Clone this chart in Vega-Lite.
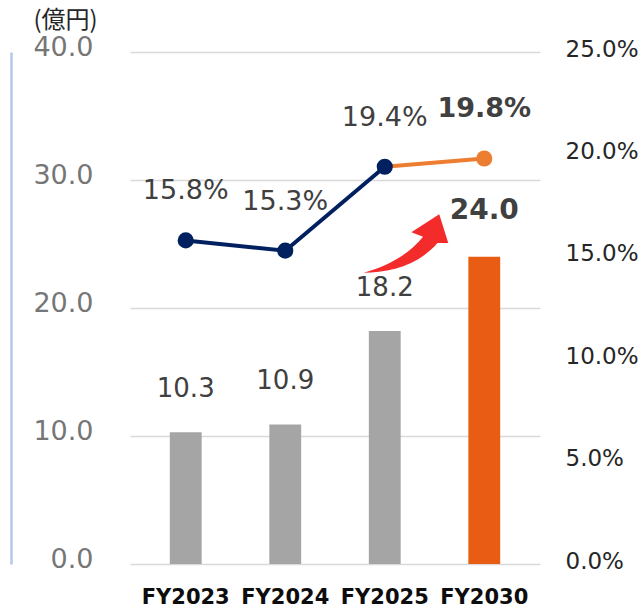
{
  "$schema": "https://vega.github.io/schema/vega-lite/v6.json",
  "width": 410,
  "height": 512,
  "autosize": {"type": "none"},
  "padding": {"left": 130, "top": 52, "right": 100, "bottom": 43},
  "background": "white",
  "config": {"view": {"stroke": null}, "font": "DejaVu Sans"},
  "datasets": {
    "bars": [
      {"fy": "FY2023", "sales": 10.3, "seg": "actual"},
      {"fy": "FY2024", "sales": 10.9, "seg": "actual"},
      {"fy": "FY2025", "sales": 18.2, "seg": "actual"},
      {"fy": "FY2030", "sales": 24.0, "seg": "plan"}
    ],
    "margin": [
      {"fy": "FY2023", "margin": 0.158, "seg": "actual"},
      {"fy": "FY2024", "margin": 0.153, "seg": "actual"},
      {"fy": "FY2025", "margin": 0.194, "seg": "actual"},
      {"fy": "FY2025", "margin": 0.194, "seg": "plan"},
      {"fy": "FY2030", "margin": 0.198, "seg": "plan"}
    ]
  },
  "encoding": {
    "x": {
      "field": "fy",
      "type": "nominal",
      "sort": ["FY2023", "FY2024", "FY2025", "FY2030"],
      "scale": {"paddingInner": 0.68, "paddingOuter": 0.4},
      "axis": {
        "title": null,
        "domain": false,
        "ticks": false,
        "labelAngle": 0,
        "labelFontSize": 21,
        "labelFontWeight": "bold",
        "labelColor": "#0D0D0D",
        "labelPadding": 22
      }
    }
  },
  "layer": [
    {
      "data": {"name": "bars"},
      "encoding": {
        "y": {
          "field": "sales",
          "type": "quantitative",
          "scale": {"domain": [0, 40]},
          "axis": {
            "orient": "left",
            "offset": 119,
            "domain": true,
            "domainColor": "#B4C7E7",
            "domainWidth": 2.5,
            "ticks": false,
            "grid": true,
            "gridColor": "#D9D9D9",
            "gridWidth": 1.3,
            "values": [0, 10, 20, 30, 40],
            "format": ".1f",
            "labelFontSize": 27,
            "labelColor": "#767676",
            "labelPadding": -82,
            "labelOffset": -5,
            "title": "(億円)",
            "titleAngle": 0,
            "titleFont": "Noto Sans CJK JP",
            "titleFontSize": 24,
            "titleFontWeight": "normal",
            "titleColor": "#262626",
            "titleAlign": "center",
            "titleBaseline": "middle",
            "titleX": 54,
            "titleY": -32
          }
        }
      },
      "layer": [
        {
          "mark": {"type": "bar"},
          "encoding": {
            "color": {
              "field": "seg",
              "type": "nominal",
              "scale": {"domain": ["actual", "plan"], "range": ["#A5A5A5", "#E85C13"]},
              "legend": null
            }
          }
        },
        {
          "transform": [{"filter": "datum.fy != 'FY2030'"}],
          "mark": {"type": "text", "dy": -43, "fontSize": 26, "color": "#404040", "baseline": "middle"},
          "encoding": {"text": {"field": "sales", "type": "quantitative", "format": ".1f"}}
        },
        {
          "transform": [{"filter": "datum.fy == 'FY2030'"}],
          "mark": {"type": "text", "dy": -46, "fontSize": 28, "fontWeight": "bold", "color": "#404040", "baseline": "middle"},
          "encoding": {"text": {"field": "sales", "type": "quantitative", "format": ".1f"}}
        },
        {
          "transform": [{"filter": "datum.fy == 'FY2030'"}],
          "mark": {
            "type": "point",
            "shape": "M -0.98 0.64 C -0.44 0.64 0.22 0.49 0.66 -0.02 L 0.9 -0.02 L 0.7 -0.66 L 0.08 -0.26 L 0.34 -0.16 C 0.04 0.22 -0.44 0.49 -0.98 0.64 Z",
            "size": 8100,
            "filled": true,
            "opacity": 1,
            "color": "#F42B2B",
            "strokeWidth": 0,
            "xOffset": 23
          },
          "encoding": {
            "x": {"datum": "FY2025", "type": "nominal"},
            "y": {"datum": 25, "type": "quantitative"}
          }
        }
      ]
    },
    {
      "data": {"name": "margin"},
      "encoding": {
        "y": {
          "field": "margin",
          "type": "quantitative",
          "scale": {"domain": [0, 0.25]},
          "axis": {
            "orient": "right",
            "grid": false,
            "domain": false,
            "ticks": false,
            "values": [0, 0.05, 0.1, 0.15, 0.2, 0.25],
            "format": ".1%",
            "labelFontSize": 23,
            "labelColor": "#262626",
            "labelPadding": 25,
            "labelOffset": -3,
            "title": null
          }
        }
      },
      "layer": [
        {
          "mark": {"type": "line", "strokeWidth": 4},
          "encoding": {
            "color": {
              "field": "seg",
              "type": "nominal",
              "scale": {"domain": ["actual", "plan"], "range": ["#002060", "#ED7D31"]},
              "legend": null
            }
          }
        },
        {
          "transform": [{"filter": "!(datum.seg == 'plan' && datum.fy == 'FY2025')"}],
          "mark": {"type": "point", "filled": true, "size": 260, "opacity": 1},
          "encoding": {
            "color": {
              "field": "seg",
              "type": "nominal",
              "scale": {"domain": ["actual", "plan"], "range": ["#002060", "#ED7D31"]},
              "legend": null
            }
          }
        },
        {
          "transform": [{"filter": "datum.seg == 'actual'"}],
          "mark": {"type": "text", "dy": -49, "fontSize": 27, "color": "#404040", "baseline": "middle"},
          "encoding": {"text": {"field": "margin", "type": "quantitative", "format": ".1%"}}
        },
        {
          "transform": [{"filter": "datum.fy == 'FY2030'"}],
          "mark": {"type": "text", "dy": -49, "fontSize": 27, "fontWeight": "bold", "color": "#404040", "baseline": "middle"},
          "encoding": {"text": {"field": "margin", "type": "quantitative", "format": ".1%"}}
        }
      ]
    }
  ],
  "resolve": {"scale": {"y": "independent", "color": "independent"}}
}
